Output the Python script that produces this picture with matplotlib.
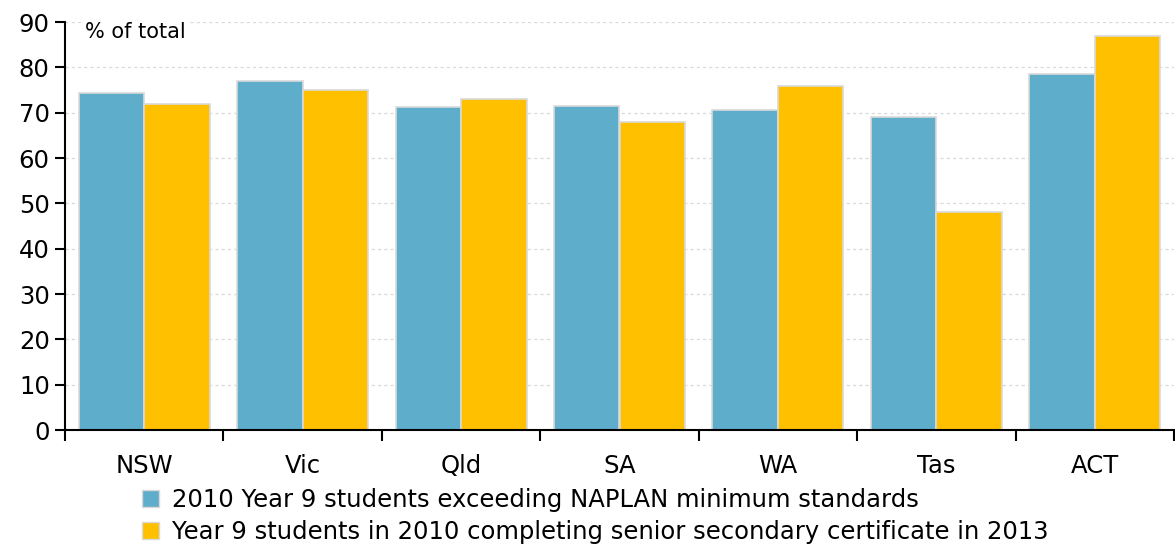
import numpy as np
import matplotlib.pyplot as plt
from matplotlib.patches import Patch

plt.rcParams['font.family'] = ['DejaVu Sans']

states = ["NSW", "Vic", "Qld", "SA", "WA", "Tas", "ACT"]
naplan_2010 = [74.3, 76.9, 71.3, 71.4, 70.6, 69.1, 78.6]
completed_2013 = [72.0, 74.9, 73.0, 68.0, 75.9, 48.0, 87.0]

labels = [
    "2010 Year 9 students exceeding NAPLAN minimum standards",
    "Year 9 students in 2010 completing senior secondary certificate in 2013",
]
BLUE = "#5EADCA"
GOLD = "#FFC000"
EDGE = "#D9D9D9"

fig = plt.figure(figsize=(11.75, 5.48), dpi=100)
ax = fig.add_axes([65 / 1175, 1 - 430 / 548, 1109 / 1175, 408 / 548])

x = np.arange(len(states))
w = 0.413
ax.bar(x - w / 2, naplan_2010, w, color=BLUE, edgecolor=EDGE, linewidth=1.2, zorder=3)
ax.bar(x + w / 2, completed_2013, w, color=GOLD, edgecolor=EDGE, linewidth=1.2, zorder=3)

ax.set_xlim(-0.5, len(states) - 0.5)
ax.set_ylim(0, 90)
ax.set_yticks(range(0, 91, 10))
ax.yaxis.grid(True, linestyle=(0, (2.5, 2.5)), color="#D9D9D9", linewidth=0.9, zorder=0)

# category labels at centres, tick marks on the boundaries
ax.set_xticks(x)
ax.set_xticklabels(states)
ax.set_xticks(np.arange(-0.5, len(states)), minor=True)
ax.tick_params(axis="x", which="major", length=0, pad=17, labelsize=17.5)
ax.tick_params(axis="x", which="minor", length=8, width=1.5, direction="out")
ax.tick_params(axis="y", length=7, width=1.5, labelsize=17.5, pad=4)

for side in ("top", "right"):
    ax.spines[side].set_visible(False)
for side in ("left", "bottom"):
    ax.spines[side].set_linewidth(1.5)
ax.spines["bottom"].set_zorder(4)

ax.text(0.018, 1.0, "% of total", transform=ax.transAxes, fontsize=15,
        va="top", ha="left", zorder=5,
        bbox=dict(facecolor="white", edgecolor="none", pad=2))

handles = [Patch(facecolor=BLUE, edgecolor=EDGE), Patch(facecolor=GOLD, edgecolor=EDGE)]
fig.legend(handles, labels, loc="upper left", bbox_to_anchor=(132 / 1175, 1 - 478 / 548),
           frameon=False, fontsize=17.5, handlelength=0.7, handleheight=0.7,
           handletextpad=0.55, labelspacing=0.35, borderaxespad=0)

fig.savefig("out.png", dpi=100)
